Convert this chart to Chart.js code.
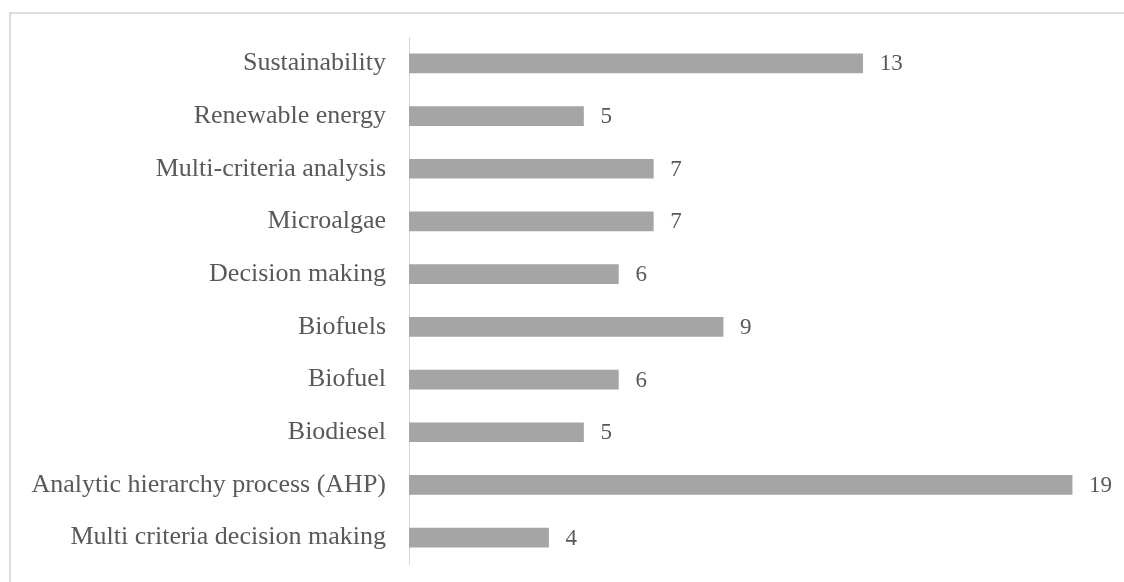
<!DOCTYPE html>
<html>
<head>
<meta charset="utf-8">
<script src="https://cdn.jsdelivr.net/npm/chart.js@4.4.0/dist/chart.umd.min.js"></script>
<style>
  html, body { margin: 0; padding: 0; background: #fff; overflow: hidden; }
  #frame { position: absolute; left: 9px; top: 12px; width: 1300px; height: 800px; border: 2px solid #dcdcdc; box-sizing: border-box; }
  #wrap { position: absolute; left: 0; top: 0; width: 1124px; height: 582px; }
</style>
</head>
<body>
<div id="frame"></div>
<div id="wrap"><canvas id="c"></canvas></div>
<script>
const categories = [
  "Sustainability",
  "Renewable energy",
  "Multi-criteria analysis",
  "Microalgae",
  "Decision making",
  "Biofuels",
  "Biofuel",
  "Biodiesel",
  "Analytic hierarchy process (AHP)",
  "Multi criteria decision making"
];
const counts = [13, 5, 7, 7, 6, 9, 6, 5, 19, 4];

const FONT = '"Liberation Serif", "Times New Roman", serif';
const TEXT = '#595959';

const valueLabels = {
  id: 'valueLabels',
  afterDatasetsDraw(chart) {
    const ctx = chart.ctx;
    const meta = chart.getDatasetMeta(0);
    ctx.save();
    ctx.font = '23px ' + FONT;
    ctx.fillStyle = TEXT;
    ctx.textAlign = 'left';
    ctx.textBaseline = 'middle';
    meta.data.forEach((bar, i) => {
      ctx.fillText(String(chart.data.datasets[0].data[i]), bar.x + 17, bar.y + 1);
    });
    ctx.restore();
  }
};

new Chart(document.getElementById('c'), {
  type: 'bar',
  data: {
    labels: categories,
    datasets: [{
      data: counts,
      backgroundColor: '#a5a5a5',
      borderWidth: 0,
      barThickness: 19
    }]
  },
  options: {
    indexAxis: 'y',
    responsive: true,
    maintainAspectRatio: false,
    animation: false,
    layout: { padding: { top: 37, bottom: 18, right: 17, left: 0 } },
    plugins: { legend: { display: false }, tooltip: { enabled: false } },
    scales: {
      x: { display: false, min: 0, max: 20 },
      y: {
        afterFit(scale) { scale.width = 409; scale.paddingTop = 0; scale.paddingBottom = 0; },
        grid: { display: false, drawTicks: false },
        border: { display: true, color: '#d9d9d9', width: 1 },
        ticks: { padding: 23, color: TEXT, font: { family: FONT, size: 26 } }
      }
    }
  },
  plugins: [valueLabels]
});
</script>
</body>
</html>
